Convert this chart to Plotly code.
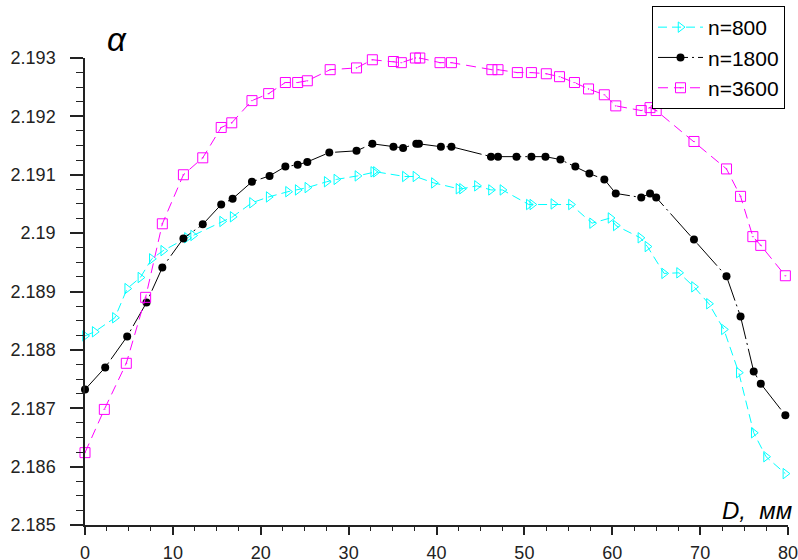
import plotly.graph_objects as go

# ---- data ----
d_800 = [0, 1.1, 3.4, 4.8, 6.3, 7.6, 8.9, 11.6, 12.3, 15.6, 16.8, 19.0, 20.9, 23.1, 24.2, 25.3,
         27.5, 28.6, 31.0, 32.8, 33.1, 36.4, 37.6, 39.7, 42.5, 42.9, 44.6, 46.2, 47.5, 50.5, 50.9,
         53.3, 55.3, 57.7, 59.8, 60.4, 63.2, 64.0, 65.9, 67.6, 69.3, 71.0, 72.7, 74.4, 76.1, 77.5, 79.7]
a_800 = [2.18824, 2.18831, 2.18855, 2.18905, 2.18924, 2.18956, 2.18970, 2.18992, 2.18996, 2.19020,
         2.19028, 2.19052, 2.19062, 2.19071, 2.19074, 2.19078, 2.19088, 2.19092, 2.19098, 2.19105,
         2.19105, 2.19097, 2.19097, 2.19086, 2.19076, 2.19076, 2.19081, 2.19074, 2.19074, 2.19049,
         2.19049, 2.19050, 2.19049, 2.19017, 2.19026, 2.19013, 2.18992, 2.18977, 2.18931, 2.18932,
         2.18908, 2.18879, 2.18835, 2.18761, 2.18658, 2.18617, 2.18588]

d_1800 = [0, 2.3, 4.8, 7.0, 8.8, 11.2, 13.4, 15.5, 16.8, 19.0, 21.0, 22.8, 24.2, 25.3, 27.8, 30.9,
          32.7, 35.1, 36.2, 37.7, 38.0, 40.5, 41.7, 46.2, 47.0, 49.1, 50.8, 52.4, 54.1, 55.8, 57.4,
          59.1, 60.4, 63.3, 64.3, 65.0, 69.3, 73.0, 74.6, 76.1, 76.9, 79.7]
a_1800 = [2.18732, 2.18770, 2.18823, 2.18881, 2.18941, 2.18991, 2.19015, 2.19049, 2.19059, 2.19088,
          2.19098, 2.19114, 2.19117, 2.19122, 2.19138, 2.19141, 2.19153, 2.19148, 2.19146, 2.19153,
          2.19153, 2.19148, 2.19148, 2.19131, 2.19131, 2.19131, 2.19131, 2.19131, 2.19126, 2.19114,
          2.19102, 2.19092, 2.19068, 2.19061, 2.19068, 2.19061, 2.18989, 2.18926, 2.18857, 2.18763,
          2.18742, 2.18688]

d_3600 = [0, 2.2, 4.7, 6.9, 8.8, 11.2, 13.4, 15.5, 16.7, 19.0, 20.9, 22.8, 24.2, 25.3, 27.9, 30.9,
          32.7, 35.1, 36.0, 37.6, 38.1, 40.4, 41.7, 46.3, 47.0, 49.2, 50.8, 52.5, 54.0, 55.7, 57.3,
          59.1, 60.4, 63.3, 64.3, 65.0, 69.3, 73.0, 74.6, 76.0, 76.9, 79.7]
a_3600 = [2.18624, 2.18698, 2.18777, 2.18890, 2.19016, 2.19100, 2.19129, 2.19181, 2.19189, 2.19227,
          2.19239, 2.19258, 2.19258, 2.19261, 2.19280, 2.19283, 2.19297, 2.19294, 2.19292, 2.19300,
          2.19300, 2.19292, 2.19292, 2.19280, 2.19280, 2.19275, 2.19275, 2.19273, 2.19268, 2.19258,
          2.19247, 2.19237, 2.19218, 2.19210, 2.19215, 2.19210, 2.19157, 2.19110, 2.19063, 2.18994,
          2.18979, 2.18927]

x_ticks = [0, 10, 20, 30, 40, 50, 60, 70, 80]
y_ticks = [2.185, 2.186, 2.187, 2.188, 2.189, 2.190, 2.191, 2.192, 2.193]
y_ticktext = ["2.185", "2.186", "2.187", "2.188", "2.189", "2.19", "2.191", "2.192", "2.193"]
x_minor = [i * 2.5 for i in range(33)]
y_minor = [2.185 + i * 0.00025 for i in range(33)]

FONT = "Liberation Sans, Arial, sans-serif"
AX = "#222"

# paper area: x 85..788 px, y 0..525 px (from top); plot top at 58 px
PH = 525.0
def py(pix_from_top):
    return (PH - pix_from_top) / PH
def px(pix_from_left):
    return (pix_from_left - 85) / 703.0

fig = go.Figure()
fig.add_trace(go.Scatter(
    x=d_800, y=a_800, name="n=800", mode="lines+markers", cliponaxis=False,
    line=dict(color="#00FFFF", width=1, dash="9px,5px"),
    marker=dict(symbol="triangle-right-open", size=9, color="#00FFFF", line=dict(width=1, color="#00FFFF")),
))
fig.add_trace(go.Scatter(
    x=d_1800, y=a_1800, name="n=1800", mode="lines+markers", cliponaxis=False,
    line=dict(color="#000000", width=1, dash="30px,4px,2px,4px"),
    marker=dict(symbol="circle", size=8, color="#000000"),
))
fig.add_trace(go.Scatter(
    x=d_3600, y=a_3600, name="n=3600", mode="lines+markers", cliponaxis=False,
    line=dict(color="#FF00FF", width=1, dash="10px,6px"),
    marker=dict(symbol="square-open-dot", size=10, color="#FF00FF", line=dict(width=1, color="#FF00FF")),
))

fig.update_layout(
    width=798, height=560,
    margin=dict(l=85, r=10, t=0, b=35, autoexpand=False),
    plot_bgcolor="white", paper_bgcolor="white",
    font=dict(family=FONT, size=18, color=AX),
    showlegend=True,
    legend=dict(
        x=px(785), xanchor="right", y=py(6), yanchor="top",
        bgcolor="white", bordercolor="#000", borderwidth=1,
        font=dict(family=FONT, size=21, color="#000"),
        tracegroupgap=0, itemwidth=45,
    ),
    xaxis=dict(
        range=[0, 80], tickmode="array", tickvals=x_ticks, showgrid=False, zeroline=False,
        showline=True, linecolor=AX, linewidth=1.5, automargin=False,
        ticks="outside", ticklen=8, tickcolor=AX, tickwidth=1.5,
        ticklabelstandoff=3, ticklabeloverflow="allow",
        minor=dict(tickmode="array", tickvals=x_minor, ticks="outside", ticklen=4, tickcolor=AX, tickwidth=1, showgrid=False),
        tickfont=dict(family=FONT, size=18, color=AX),
    ),
    yaxis=dict(
        range=[2.185, 2.193], domain=[0, py(58)], tickmode="array", tickvals=y_ticks, ticktext=y_ticktext,
        showgrid=False, zeroline=False, automargin=False,
        showline=True, linecolor=AX, linewidth=1.5,
        ticks="outside", ticklen=13, tickcolor=AX, tickwidth=1.5,
        ticklabelstandoff=11, ticklabeloverflow="allow",
        minor=dict(tickmode="array", tickvals=y_minor, ticks="outside", ticklen=7, tickcolor=AX, tickwidth=1, showgrid=False),
        tickfont=dict(family=FONT, size=18, color=AX),
    ),
    annotations=[
        dict(text="<i>α</i>", xref="paper", yref="paper", x=px(117), y=py(40),
             showarrow=False, font=dict(family=FONT, size=33, color="#000"), xanchor="center", yanchor="middle"),
        dict(text="<i>D,  мм</i>", xref="paper", yref="paper", x=px(794), y=py(510),
             showarrow=False, font=dict(family=FONT, size=24, color="#000"), xanchor="right", yanchor="middle"),
    ],
)

fig.write_html("out.html", config={"displayModeBar": False},
               post_script="document.body.style.margin='0';document.body.style.overflow='hidden';")
